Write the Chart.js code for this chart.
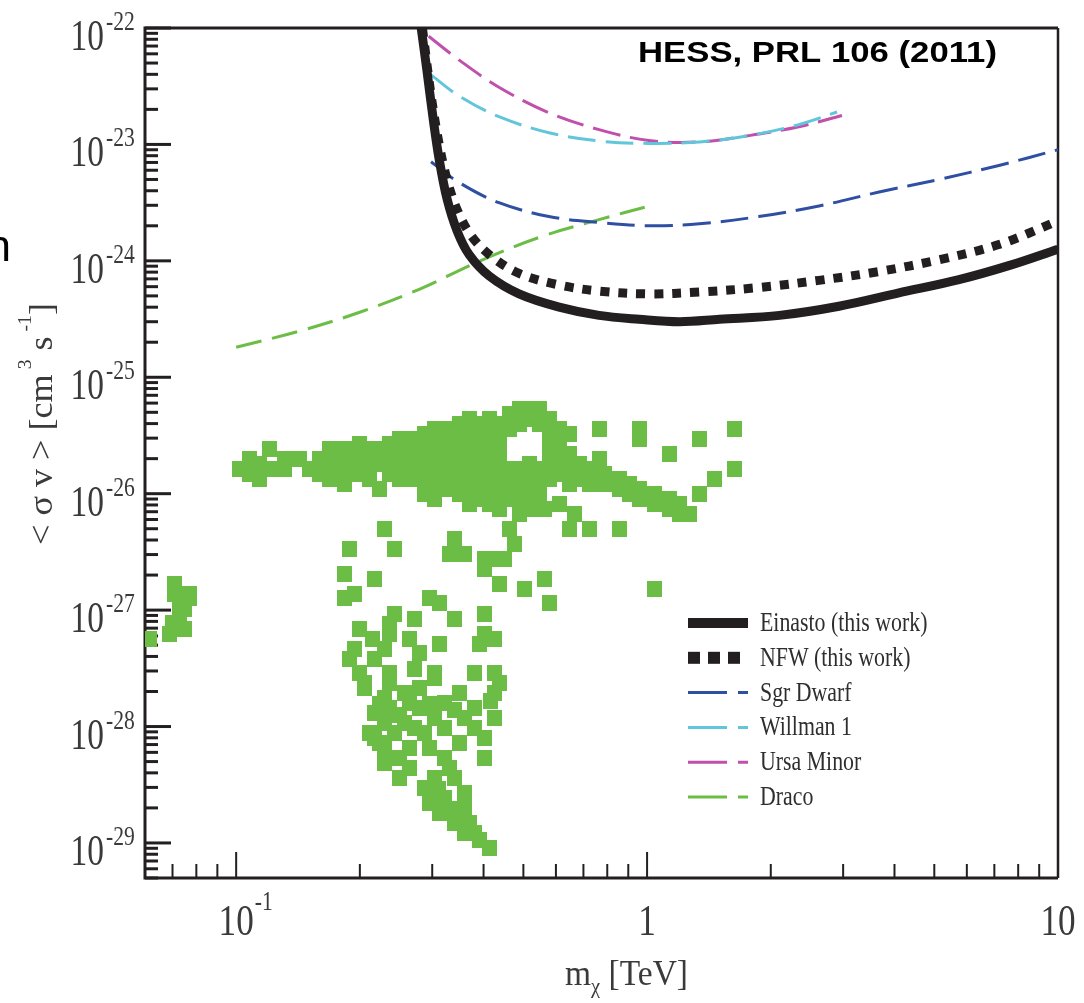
<!DOCTYPE html>
<html>
<head>
<meta charset="utf-8">
<script src="https://cdn.jsdelivr.net/npm/chart.js@4.4.1/dist/chart.umd.min.js"></script>
<style>
  html, body { margin: 0; padding: 0; background: #fff; }
  #wrap { position: relative; width: 1084px; height: 1003px; }
</style>
</head>
<body>
<div id="wrap"><canvas id="chart" width="1084" height="1003"></canvas></div>
<script>
// --- limits (mass in TeV, <sigma v> in cm^3 s^-1)
const einastoMass  = [0.282, 0.291, 0.302, 0.312, 0.326, 0.345, 0.369, 0.413, 0.488, 0.611, 0.764, 0.956, 1.20, 1.50, 2.10, 2.93, 4.10, 5.74, 7.59, 10.0];
const einastoSigma = [1.0e-22, 4.4e-23, 1.6e-23, 7.4e-24, 3.4e-24, 1.8e-24, 1.13e-24, 7.4e-25, 5.2e-25, 4.0e-25, 3.4e-25, 3.15e-25, 3.0e-25, 3.15e-25, 3.4e-25, 4.07e-25, 5.3e-25, 6.9e-25, 9.1e-25, 1.26e-24];

const nfwMass  = [0.284, 0.298, 0.312, 0.326, 0.345, 0.373, 0.417, 0.488, 0.611, 0.764, 1.01, 1.34, 1.87, 2.62, 3.67, 5.13, 7.18, 10.0];
const nfwSigma = [1.0e-22, 2.67e-23, 1.0e-23, 5.0e-24, 2.75e-24, 1.65e-24, 1.1e-24, 7.8e-25, 6.2e-25, 5.5e-25, 5.2e-25, 5.4e-25, 5.9e-25, 6.8e-25, 8.1e-25, 1.02e-24, 1.38e-24, 2.2e-24];

const sgrMass  = [0.298, 0.349, 0.436, 0.577, 0.764, 1.01, 1.34, 1.87, 2.62, 3.67, 5.13, 7.18, 10.0];
const sgrSigma = [7.1e-24, 4.7e-24, 3.16e-24, 2.4e-24, 2.14e-24, 2.0e-24, 2.08e-24, 2.4e-24, 2.96e-24, 3.9e-24, 5.0e-24, 6.6e-24, 9.0e-24];

const willmanMass  = [0.298, 0.349, 0.436, 0.577, 0.764, 1.01, 1.34, 1.77, 2.34, 2.90];
const willmanSigma = [3.96e-23, 2.6e-23, 1.73e-23, 1.26e-23, 1.07e-23, 1.02e-23, 1.05e-23, 1.19e-23, 1.48e-23, 1.9e-23];

const ursaMass  = [0.294, 0.349, 0.436, 0.577, 0.764, 1.01, 1.34, 1.77, 2.34, 2.98];
const ursaSigma = [8.5e-23, 5.3e-23, 3.1e-23, 1.87e-23, 1.34e-23, 1.08e-23, 1.05e-23, 1.19e-23, 1.42e-23, 1.77e-23];

const dracoMass  = [0.1, 0.142, 0.199, 0.279, 0.390, 0.546, 0.764, 1.01];
const dracoSigma = [1.81e-25, 2.48e-25, 3.6e-25, 5.7e-25, 9.9e-25, 1.59e-24, 2.26e-24, 2.95e-24];

// --- model scan points [mass TeV, sigma v]
const lowMassScan = [
  [0.0614,5.70e-28],[0.0687,6.29e-28],[0.0707,6.94e-28],[0.0747,6.94e-28],[0.0726,8.45e-28],
  [0.0747,1.03e-27],[0.0768,1.26e-27],[0.0707,1.38e-27],[0.0707,1.69e-27],[0.0768,1.38e-27],
  [0.0726,1.10e-27],[0.0700,7.80e-28]
];
const bandScan = [
  [0.1017,1.63e-26],[0.1075,1.99e-26],[0.1075,1.48e-26],[0.1138,1.80e-26],[0.1138,1.34e-26],[0.1203,2.42e-26],
  [0.1203,1.63e-26],[0.1309,1.99e-26],[0.1309,1.63e-26],[0.1423,1.99e-26],[0.1505,1.63e-26],[0.1591,1.99e-26],
  [0.1591,1.48e-26],[0.1683,2.42e-26],[0.1683,1.80e-26],[0.1683,1.34e-26],[0.1831,2.42e-26],[0.1831,1.99e-26],
  [0.1831,1.48e-26],[0.1831,1.21e-26],[0.1991,2.67e-26],[0.1991,1.99e-26],[0.1991,1.48e-26],[0.2106,2.42e-26],
  [0.2106,1.80e-26],[0.2106,1.34e-26],[0.2228,2.42e-26],[0.2228,1.80e-26],[0.2228,1.10e-26],[0.2356,2.67e-26],
  [0.2356,1.99e-26],[0.2356,1.48e-26],[0.2492,2.95e-26],[0.2492,2.19e-26],[0.2492,1.63e-26],[0.2492,1.34e-26],
  [0.2710,2.95e-26],[0.2710,2.42e-26],[0.2710,1.80e-26],[0.2710,1.34e-26],[0.2866,3.25e-26],[0.2866,2.42e-26],
  [0.2866,1.80e-26],[0.2866,1.34e-26],[0.2866,9.96e-27],[0.3031,3.59e-26],[0.3031,2.67e-26],[0.3031,1.99e-26],
  [0.3031,1.48e-26],[0.3031,1.10e-26],[0.3031,9.02e-27],[0.3297,3.59e-26],[0.3297,2.67e-26],[0.3297,1.99e-26],
  [0.3297,1.48e-26],[0.3297,1.10e-26],[0.3487,3.97e-26],[0.3487,2.95e-26],[0.3487,2.19e-26],[0.3487,1.63e-26],
  [0.3487,1.21e-26],[0.3487,9.96e-27],[0.3688,4.38e-26],[0.3688,3.25e-26],[0.3688,2.42e-26],[0.3688,1.80e-26],
  [0.3688,1.34e-26],[0.3688,9.96e-27],[0.3688,8.18e-27],[0.3900,3.97e-26],[0.3900,2.95e-26],[0.3900,2.19e-26],
  [0.3900,1.63e-26],[0.3900,1.21e-26],[0.3900,9.02e-27],[0.4125,4.38e-26],[0.4125,3.59e-26],[0.4125,2.67e-26],
  [0.4125,1.99e-26],[0.4125,1.48e-26],[0.4125,1.10e-26],[0.4125,8.18e-27],[0.4363,3.97e-26],[0.4363,2.95e-26],
  [0.4363,2.19e-26],[0.4363,1.63e-26],[0.4363,1.21e-26],[0.4363,9.02e-27],[0.4363,7.41e-27],[0.4614,4.83e-26],
  [0.4614,3.59e-26],[0.4614,1.63e-26],[0.4614,1.21e-26],[0.4614,9.02e-27],[0.4880,5.33e-26],[0.4880,3.97e-26],
  [0.4880,1.63e-26],[0.4880,1.21e-26],[0.4880,9.02e-27],[0.4880,6.71e-27],[0.5161,5.33e-26],[0.5161,4.38e-26],
  [0.5161,1.80e-26],[0.5161,1.34e-26],[0.5161,9.96e-27],[0.5161,7.41e-27],[0.5458,5.33e-26],[0.5458,3.97e-26],
  [0.5458,1.63e-26],[0.5458,1.21e-26],[0.5458,9.02e-27],[0.5773,4.38e-26],[0.5773,3.25e-26],[0.5773,2.42e-26],
  [0.5773,1.80e-26],[0.5773,1.34e-26],[0.6106,3.59e-26],[0.6106,2.67e-26],[0.6106,1.99e-26],[0.6106,1.48e-26],
  [0.6458,3.25e-26],[0.6458,2.19e-26],[0.6458,1.63e-26],[0.6458,1.21e-26],[0.6830,1.80e-26],[0.6830,1.34e-26],
  [0.7223,1.63e-26],[0.7223,1.21e-26],[0.7858,1.48e-26],[0.7858,1.21e-26],[0.8547,1.34e-26],[0.8547,1.10e-26],
  [0.9040,1.21e-26],[0.9040,9.96e-27],[0.9561,1.10e-26],[0.9561,9.02e-27],[1.040,9.96e-27],[1.040,8.18e-27],
  [1.131,9.02e-27],[1.131,7.41e-27],[1.196,8.18e-27],[1.196,6.71e-27],[1.265,6.71e-27]
];
const scatteredScan = [
  [0.7641,3.59e-26],[0.9561,3.59e-26],[0.9561,2.95e-26],[1.131,2.19e-26],[1.338,2.95e-26],[1.628,3.59e-26],
  [1.628,1.63e-26],[1.455,1.34e-26],[1.338,9.96e-27],[0.7641,1.99e-26],[0.6641,6.71e-27],[0.6458,4.99e-27],
  [0.7223,4.99e-27],[0.8547,4.99e-27],[0.5614,7.41e-27],[0.6106,8.18e-27],[0.4614,4.99e-27],[0.4745,3.72e-27],
  [0.4242,2.76e-27],[0.4011,2.27e-27],[0.5614,1.86e-27],[0.4363,1.69e-27],[0.5018,1.53e-27],[0.5773,1.14e-27],
  [1.040,1.53e-27]
];
const plumeScan = [
  [0.2291,4.99e-27],[0.3391,4.10e-27],[0.1883,3.37e-27],[0.2423,3.37e-27],[0.3297,3.05e-27],[0.3586,3.05e-27],
  [0.4011,2.76e-27],[0.4487,2.76e-27],[0.1831,2.06e-27],[0.2166,1.86e-27],[0.1831,1.26e-27],[0.1936,1.38e-27],
  [0.2948,1.26e-27],[0.3118,1.14e-27],[0.2423,9.33e-28],[0.2356,7.66e-28],[0.2710,8.45e-28],[0.3391,8.45e-28],
  [0.4011,9.33e-28],[0.1991,6.94e-28],[0.4011,6.29e-28],[0.4242,5.70e-28],[0.2356,6.29e-28],[0.2635,5.70e-28],
  [0.3118,5.16e-28],[0.1936,4.68e-28],[0.3900,5.16e-28],[0.2291,4.68e-28],[0.2787,4.24e-28],[0.1883,3.84e-28],
  [0.2166,3.84e-28],[0.1991,2.86e-28],[0.2356,2.86e-28],[0.2710,3.15e-28],[0.3031,2.86e-28],[0.3793,2.86e-28],
  [0.4242,2.86e-28],[0.4363,2.35e-28],[0.2048,2.13e-28],[0.2048,2.35e-28],[0.2356,2.35e-28],[0.3031,2.59e-28],
  [0.2291,1.75e-28],[0.2563,1.93e-28],[0.2787,2.13e-28],[0.3487,1.93e-28],[0.4242,1.93e-28],[0.3206,1.58e-28],
  [0.2356,1.43e-28],[0.3793,1.43e-28],[0.4242,1.18e-28],[0.2291,1.07e-28],[0.2563,1.07e-28],[0.3031,1.18e-28],
  [0.3586,1.18e-28],[0.2166,7.93e-29],[0.2423,8.75e-29],[0.2866,8.75e-29],[0.3206,9.66e-29],[0.3793,9.66e-29],
  [0.4011,7.93e-29],[0.2291,6.51e-29],[0.2635,6.51e-29],[0.2948,6.51e-29],[0.3487,7.18e-29],[0.3206,5.34e-29],
  [0.2492,5.34e-29],[0.2291,4.84e-29],[0.2635,4.38e-29],[0.4011,5.34e-29],[0.2492,3.60e-29],[0.3031,3.60e-29],
  [0.3391,3.60e-29],[0.2866,2.95e-29],[0.3206,2.43e-29],[0.3586,2.68e-29],[0.2948,2.20e-29],[0.3586,1.99e-29],
  [0.3118,1.80e-29],[0.3487,1.80e-29],[0.3391,1.48e-29],[0.3688,1.48e-29],[0.3586,1.22e-29],[0.3793,1.22e-29],
  [0.4125,9.04e-30],[0.2106,8.75e-29],[0.2228,7.18e-29],[0.2166,1.30e-28],[0.2787,1.43e-28],
  [0.2228,1.55e-28],[0.2635,1.60e-28],[0.2492,1.25e-28],[0.2710,9.80e-29],[0.3300,4.40e-29],[0.3100,2.90e-29],
  [0.3300,1.95e-29],[0.3900,1.05e-29],[0.2950,1.55e-28],[0.3400,1.38e-28],[0.2150,5.70e-28],[0.4150,1.65e-28]
];

// --- axis ticks / labels
const yTickValues = [1e-22, 1e-23, 1e-24, 1e-25, 1e-26, 1e-27, 1e-28, 1e-29];
const yTickExp    = ['-22', '-23', '-24', '-25', '-26', '-27', '-28', '-29'];
const xTickValues = [0.1, 1, 10];
const xTickBase   = ['10', '1', '10'];
const xTickExp    = ['-1', '', ''];
const legendLabels = ['Einasto (this work)', 'NFW (this work)', 'Sgr Dwarf', 'Willman 1', 'Ursa Minor', 'Draco'];

const ink = '#231f20';
const labelInk = '#3a3a3a';
const scanGreen = '#6bbd45';

function toPoints(xs, ys) {
    return xs.map((m, i) => ({ x: m, y: ys[i] }));
}
function pairPoints(list) {
    return list.map(p => ({ x: p[0], y: p[1] }));
}

// solid square marker, a bit taller than wide like the scanned figure
const marker = document.createElement('canvas');
marker.width = 15; marker.height = 16;
(function () {
    const m = marker.getContext('2d');
    m.fillStyle = scanGreen;
    m.fillRect(0, 0, 15, 16);
})();

function scaledText(ctx, text, x, y, font, align, sx, base) {
    ctx.save();
    ctx.translate(x, y);
    ctx.scale(sx, 1);
    ctx.font = font;
    ctx.textAlign = align;
    ctx.textBaseline = base || 'alphabetic';
    ctx.fillText(text, 0, 0);
    ctx.restore();
}

// draws a run of [text, size, shift] pieces in a serif face, squeezed to a given length
function drawPieces(ctx, pieces, targetW) {
    let w = 0;
    pieces.forEach(p => { ctx.font = p[1] + 'px "Liberation Serif"'; w += ctx.measureText(p[0]).width; });
    const sx = targetW / w;
    ctx.scale(sx, 1);
    let cx = 0;
    pieces.forEach(p => {
        ctx.font = p[1] + 'px "Liberation Serif"';
        ctx.fillText(p[0], cx, p[2]);
        cx += ctx.measureText(p[0]).width;
    });
}

const decorations = {
    id: 'decorations',
    beforeDatasetsDraw(chart) {
        const { ctx, chartArea: a, scales: { x, y } } = chart;
        ctx.save();
        ctx.strokeStyle = ink;
        ctx.lineCap = 'butt';

        // frame
        ctx.lineWidth = 3;
        ctx.beginPath();
        ctx.moveTo(a.left, a.top); ctx.lineTo(a.right, a.top);
        ctx.moveTo(a.left, a.top - 1.5); ctx.lineTo(a.left, a.bottom + 1.5);
        ctx.moveTo(a.left, a.bottom); ctx.lineTo(a.right, a.bottom);
        ctx.stroke();
        ctx.lineWidth = 2.5;
        ctx.beginPath();
        ctx.moveTo(a.right, a.top); ctx.lineTo(a.right, a.bottom);
        ctx.stroke();

        // y ticks, pointing inwards
        ctx.lineWidth = 3;
        for (let d = -30; d <= -22; d++) {
            for (let k = 1; k <= 9; k++) {
                const v = k * Math.pow(10, d);
                if (v < y.min || v > y.max * 1.001) continue;
                const py = y.getPixelForValue(v);
                const len = k === 1 ? 26 : 13;
                ctx.beginPath();
                ctx.moveTo(a.left, py); ctx.lineTo(a.left + len, py);
                ctx.stroke();
            }
        }
        // x ticks
        ctx.lineWidth = 2;
        for (let d = -2; d <= 1; d++) {
            for (let k = 1; k <= 9; k++) {
                const v = k * Math.pow(10, d);
                if (v < x.min || v > x.max * 1.001) continue;
                const px = x.getPixelForValue(v);
                const len = k === 1 ? 26 : 14;
                ctx.beginPath();
                ctx.moveTo(px, a.bottom); ctx.lineTo(px, a.bottom - len);
                ctx.stroke();
            }
        }
        ctx.restore();
    },
    afterDraw(chart) {
        const { ctx, scales: { x, y } } = chart;
        ctx.save();
        ctx.fillStyle = labelInk;

        // y tick labels
        yTickValues.forEach((v, i) => {
            const py = y.getPixelForValue(v);
            scaledText(ctx, '10', 104, py + 22, '44px "Liberation Serif"', 'right', 0.76);
            scaledText(ctx, yTickExp[i], 106, py + 2, '27px "Liberation Serif"', 'left', 0.8);
        });

        // x tick labels
        xTickValues.forEach((v, i) => {
            const px = x.getPixelForValue(v);
            ctx.font = '44px "Liberation Serif"';
            const w = ctx.measureText(xTickBase[i]).width * 0.8;
            scaledText(ctx, xTickBase[i], px, 935, '44px "Liberation Serif"', 'center', 0.8);
            if (xTickExp[i]) {
                scaledText(ctx, xTickExp[i], px + w / 2 + 1, 910, '27px "Liberation Serif"', 'left', 0.8);
            }
        });

        // x title: m_chi [TeV]
        ctx.save();
        ctx.translate(565, 985);
        drawPieces(ctx, [['m', 36, 0], ['\u03c7', 22, 8], [' [TeV]', 36, 0]], 123);
        ctx.restore();

        // y title, rotated
        ctx.save();
        ctx.translate(52, 545);
        ctx.rotate(-Math.PI / 2);
        drawPieces(ctx, [['< \u03c3 v > [cm', 33, 0], [' 3', 18, -21], [' s', 33, 0], [' -1', 18, -21], [']', 33, 0]], 242);
        ctx.restore();

        // legend in the lower right of the frame
        const sx0 = 688, sx1 = 748;
        legendLabels.forEach((label, i) => {
            const ds = chart.data.datasets.find(d => d.label === label);
            const cy = 623 + i * 34.8;
            ctx.save();
            if (i === 0) {
                ctx.fillStyle = ds.borderColor;
                ctx.fillRect(sx0, cy - 5, sx1 - sx0, 10);
            } else if (i === 1) {
                ctx.fillStyle = ds.borderColor;
                [0, 20, 40].forEach(o => ctx.fillRect(sx0 + o, cy - 6, 12, 12));
            } else {
                ctx.strokeStyle = ds.borderColor;
                ctx.lineWidth = 3;
                ctx.beginPath();
                ctx.moveTo(sx0, cy); ctx.lineTo(sx0 + 39, cy);
                ctx.moveTo(sx0 + 50, cy); ctx.lineTo(sx1, cy);
                ctx.stroke();
            }
            ctx.restore();
            ctx.fillStyle = '#2e2e2e';
            scaledText(ctx, label, 760, cy + 8, '28px "Liberation Serif"', 'left', 0.78);
        });

        // citation in the top right corner
        ctx.fillStyle = '#000';
        ctx.font = 'bold 30px "Liberation Sans"';
        const tw = ctx.measureText('HESS, PRL 106 (2011)').width;
        scaledText(ctx, 'HESS, PRL 106 (2011)', 638, 62, 'bold 30px "Liberation Sans"', 'left', 359 / tw);

        // cut-off letter at the left edge of the slide
        ctx.font = '44px "Liberation Sans"';
        ctx.textAlign = 'right';
        ctx.fillText('n', 11, 261);
        ctx.restore();
    }
};

const lineBase = { showLine: true, pointRadius: 0, tension: 0.35, fill: false, borderCapStyle: 'butt' };

new Chart(document.getElementById('chart'), {
    type: 'scatter',
    data: {
        datasets: [
            Object.assign({}, lineBase, { label: 'Einasto (this work)', data: toPoints(einastoMass, einastoSigma), borderColor: ink, borderWidth: 9 }),
            Object.assign({}, lineBase, { label: 'NFW (this work)', data: toPoints(nfwMass, nfwSigma), borderColor: ink, borderWidth: 9, borderDash: [9, 9] }),
            Object.assign({}, lineBase, { label: 'Sgr Dwarf', data: toPoints(sgrMass, sgrSigma), borderColor: '#2f4fa2', borderWidth: 3, borderDash: [28, 10] }),
            Object.assign({}, lineBase, { label: 'Willman 1', data: toPoints(willmanMass, willmanSigma), borderColor: '#62c6da', borderWidth: 3, borderDash: [28, 10] }),
            Object.assign({}, lineBase, { label: 'Ursa Minor', data: toPoints(ursaMass, ursaSigma), borderColor: '#c050ab', borderWidth: 3, borderDash: [28, 10] }),
            Object.assign({}, lineBase, { label: 'Draco', data: toPoints(dracoMass, dracoSigma), borderColor: '#6cbd46', borderWidth: 3, borderDash: [26, 11] }),
            {
                label: 'scan',
                data: pairPoints(lowMassScan.concat(bandScan, scatteredScan, plumeScan)),
                pointStyle: marker,
                pointRadius: 7,
                showLine: false
            }
        ]
    },
    options: {
        responsive: false,
        animation: false,
        events: [],
        layout: { padding: { left: 0, right: 26, top: 28, bottom: 0 } },
        plugins: { legend: { display: false }, tooltip: { enabled: false } },
        scales: {
            x: {
                type: 'logarithmic', min: 0.06, max: 10,
                grid: { display: false }, border: { display: false },
                ticks: { display: false },
                afterFit(scale) { scale.height = 125; }
            },
            y: {
                type: 'logarithmic', min: 5.2e-30, max: 1e-22,
                grid: { display: false }, border: { display: false },
                ticks: { display: false },
                afterFit(scale) { scale.width = 145; }
            }
        }
    },
    plugins: [decorations]
});
</script>
</body>
</html>
